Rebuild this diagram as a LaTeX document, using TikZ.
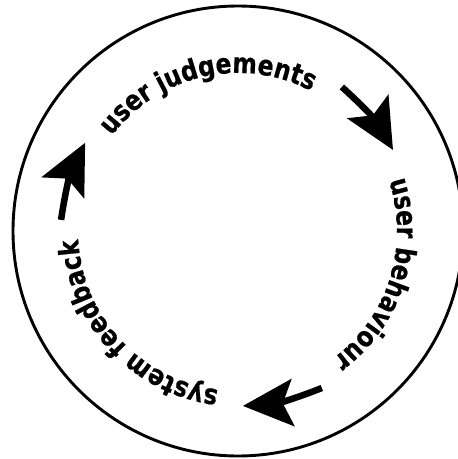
\documentclass[tikz,border=0pt]{standalone}
\usepackage{fontspec}
\setmainfont{DejaVu Sans Condensed}[BoldFeatures={FakeStretch=0.93,FakeBold=0.6}]
\usetikzlibrary{decorations.text,arrows.meta}
\newcommand{\lblfont}{\fontsize{28}{32}\selectfont\bfseries}
\begin{document}
\begin{tikzpicture}[x=1pt,y=1pt,
  ring/.style={line width=2.9pt},
  cycarrow/.style={line width=6.5pt, -{Stealth[length=50pt,width=47pt,inset=10pt]}, bend left=9},
  arclabel/.style={decorate, decoration={text along path, text align=center, text={|\lblfont|#1}}}
]
\useasboundingbox (-238,-228) rectangle (220,231);
\coordinate (c) at (0,0);
\draw[ring] (c) circle (225);
\path[arclabel={user judgements}] (c) ++(162.7:158) arc (162.7:42.7:158);
\path[arclabel={user behaviour}] (c) ++(42.5:159) arc (42.5:-77.5:159);
\path[arclabel={system feedback}] (c) ++(-77:160) arc (-77:-197:160);
\coordinate (t1) at (54.2:177.6); \coordinate (h1) at (27.6:174.9);
\coordinate (t2) at (-61.9:178);  \coordinate (h2) at (-88.4:175);
\coordinate (t3) at (176.4:177.3); \coordinate (h3) at (150:176.5);
\draw[cycarrow] (t1) to (h1);
\draw[cycarrow] (t2) to (h2);
\draw[cycarrow] (t3) to (h3);
\end{tikzpicture}
\end{document}
